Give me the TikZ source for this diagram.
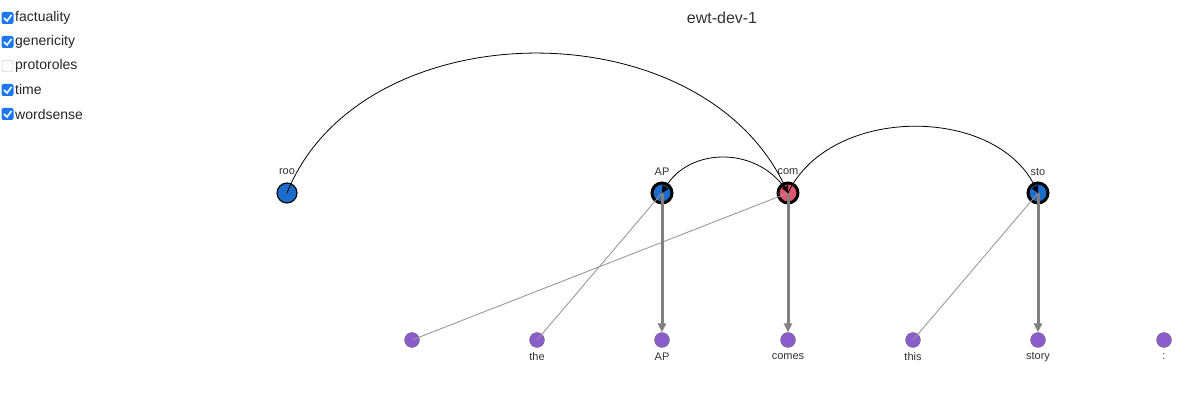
\documentclass[tikz,border=0pt]{standalone}
\usepackage{fontspec}
\setmainfont{Liberation Sans}
\usetikzlibrary{arrows.meta}
\begin{document}
\begin{tikzpicture}[x=1pt,y=-1pt,
  topnode/.style={circle,draw=black,line width=3pt,minimum size=20pt,inner sep=0pt},
  word/.style={circle,draw=gray!80!black,line width=0.3pt,minimum size=15pt,inner sep=0pt},
  lab/.style={font=\fontsize{11}{12}\selectfont,text=black!80},
  arcline/.style={line width=0.8pt,-{Triangle[length=7pt,width=7pt]}},
  heavy/.style={draw=gray,line width=3pt,-{Triangle[length=9pt,width=8pt]}},
  light/.style={draw=gray!80,line width=0.9pt}]
\useasboundingbox (0,0) rectangle (1199,411);
\definecolor{nb}{HTML}{1C6DC9}
\definecolor{nr}{HTML}{E8546E}
\definecolor{np}{HTML}{8B5CCB}
\definecolor{cb}{HTML}{1A78F0}
% checkboxes
\foreach \t [count=\i] in {factuality,genericity,protoroles,time,wordsense}{
  \node[anchor=west,font=\fontsize{14}{15}\selectfont,text=black!85,inner sep=0pt] (cb\i) at (15,18+24*\i-24) {\t};
}
\foreach \i in {1,2,4,5}{
  \fill[cb,rounded corners=2pt] (1.5,18+24*\i-24-6) rectangle ++(12,12);
  \draw[white,line width=1.6pt] (4,18+24*\i-24) -- ++(3,3) -- ++(4.5,-6);
}
\draw[gray!60,rounded corners=2pt] (2,18+48-5.5) rectangle ++(11,11);
\node[font=\fontsize{16}{17}\selectfont,text=black!80] (title) at (722,18) {ewt-dev-1};
% top nodes
\node[topnode,line width=1.1pt,fill=nb] (roo) at (287,193) {};
\node[topnode,fill=nb] (AP) at (662,193) {};
\node[topnode,fill=nr] (com) at (788,193) {};
\node[topnode,fill=nb] (sto) at (1038,193) {};
\foreach \n/\t in {roo/roo,AP/AP,com/com,sto/sto}
  \node[lab] at ([yshift=21]\n.center) {\t};
% word nodes
\foreach \n/\x/\t in {w1/412/{},w2/537/the,w3/662/AP,w4/788/comes,w5/913/this,w6/1038/story,w7/1164/{:}}{
  \node[word,fill=np] (\n) at (\x,340) {};
  \node[lab] at (\x,357) {\t};
}
% thin lines
\draw[light] (w1.center) -- (com.center);
\draw[light] (w2.center) -- (AP.center);
\draw[light] (w5.center) -- (sto.center);
% heavy arrows
\draw[heavy] (AP.center) -- (w3.north);
\draw[heavy] (com.center) -- (w4.north);
\draw[heavy] (sto.center) -- (w6.north);
% arcs
\draw[arcline] (roo.center) .. controls (360,10) and (700,5) .. (com.center);
\draw[arcline] (com.center) .. controls (760,146) and (690,146) .. (AP.center);
\draw[arcline] (com.center) .. controls (830,105) and (996,105) .. (sto.center);
\end{tikzpicture}
\end{document}
